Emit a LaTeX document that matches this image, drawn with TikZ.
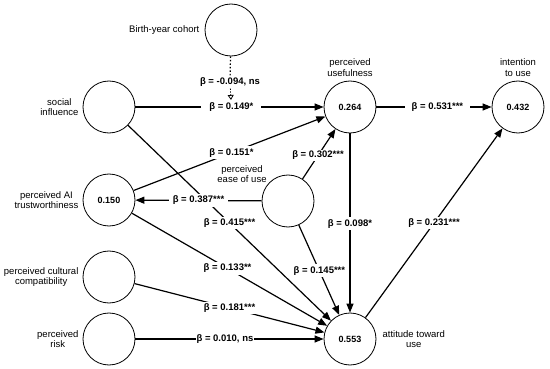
\documentclass[tikz,border=0pt]{standalone}
\usepackage{fontspec}
\setmainfont{Liberation Sans}
\usetikzlibrary{arrows.meta, positioning}

\begin{document}
\begin{tikzpicture}[x=1pt, y=-1pt, font=\fontsize{9.5}{10.5}\selectfont,
    latent/.style={draw, circle, line width=0.8pt, minimum size=52pt, inner sep=0pt,
                   font=\fontsize{9}{10}\selectfont\bfseries},
    lbl/.style={align=center, inner sep=1pt},
    effect/.style={-{Triangle[length=9pt, width=7pt]}, line width=1.2pt},
    beta/.style={fill=white, inner sep=2pt, inner xsep=4pt,
                 font=\fontsize{9.5}{10.5}\selectfont\bfseries}]
    \useasboundingbox (0,0) rectangle (550,369);

    % constructs
    \node[latent] (cohort) at (231,30) {};
    \node[latent] (social) at (109,107) {};
    \node[latent] (useful) at (350,107) {0.264};
    \node[latent] (intent) at (518,107) {0.432};
    \node[latent] (trust) at (109,200) {0.150};
    \node[latent] (ease) at (288,201) {};
    \node[latent] (culture) at (109,277) {};
    \node[latent] (risk) at (109,339) {};
    \node[latent] (attitude) at (350,339) {0.553};

    % construct names
    \node[lbl, left=4pt of cohort] (cohortlbl) {Birth-year cohort};
    \node[lbl, left=3pt of social] (sociallbl) {social\\influence};
    \node[lbl, above=3pt of useful] (usefullbl) {perceived\\usefulness};
    \node[lbl, above=3pt of intent] (intentlbl) {intention\\to use};
    \node[lbl, left=3pt of trust] (trustlbl) {perceived AI\\trustworthiness};
    \node[lbl] (easelbl) at (242,174) {perceived\\ease of use};
    \node[lbl, left=3pt of culture] (culturelbl) {perceived cultural\\compatibility};
    \node[lbl, left=3pt of risk] (risklbl) {perceived\\risk};
    \node[lbl, right=5pt of attitude] (attitudelbl) {attitude toward\\use};

    % paths
    \draw[effect] (social) -- node[beta, pos=0.5] (b415) {β = 0.415***} (attitude);
    \draw[effect] (social) -- node[beta, pos=0.51, inner xsep=8pt] (b149) {β = 0.149*} (useful);
    \draw[effect] (useful) -- node[beta, pos=0.53, inner xsep=7pt] (b531) {β = 0.531***} (intent);
    \draw[effect] (trust) -- node[beta, pos=0.51] (b151) {β = 0.151*} (useful);
    \draw[effect] (ease) -- node[beta, pos=0.5] (b387) {β = 0.387***} (trust);
    \draw[effect] (ease) -- node[beta, pos=0.47, inner sep=1pt] (b302) {β = 0.302***} (useful);
    \draw[effect] (useful) -- node[beta, pos=0.505] (b098) {β = 0.098*} (attitude);
    \draw[effect] (ease) -- node[beta, pos=0.51] (b145) {β = 0.145***} (attitude);
    \draw[effect] (trust) -- node[beta, pos=0.49] (b133) {β = 0.133**} (attitude);
    \draw[effect] (culture) -- node[beta, pos=0.5] (b181) {β = 0.181***} (attitude);
    \draw[effect] (risk) -- node[beta, pos=0.476, inner xsep=1pt] (b010) {β = 0.010, ns} (attitude);
    \draw[effect] (attitude) -- node[beta, pos=0.5] (b231) {β = 0.231***} (intent);

    % moderation
    \node[beta] (b094) at (230,82) {β = -0.094, ns};
    \draw[line width=1.2pt, dash pattern=on 1.5pt off 2pt] (cohort) -- (b094);
    \draw[line width=0.8pt, dash pattern=on 1.2pt off 1.5pt,
          -{Triangle[open, length=5pt, width=6pt]}] (b094) -- (b149);
\end{tikzpicture}
\end{document}
